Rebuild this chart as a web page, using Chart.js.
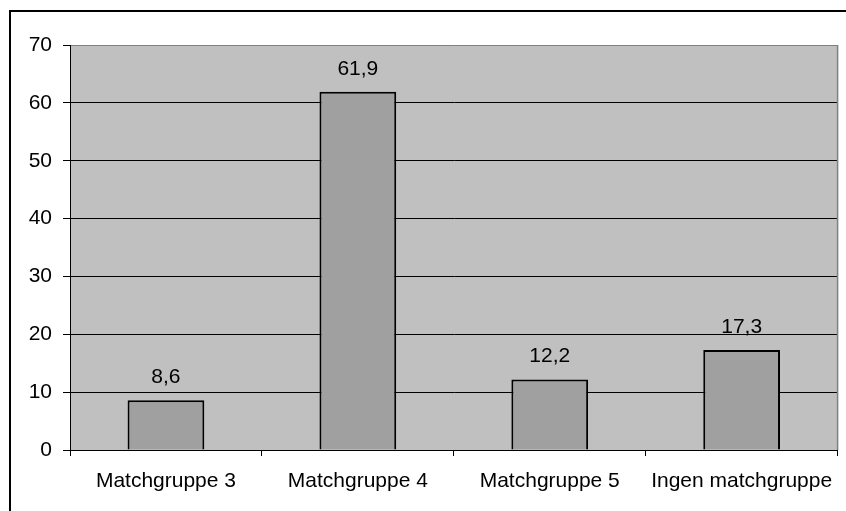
<!DOCTYPE html>
<html>
<head>
<meta charset="utf-8">
<script src="https://cdn.jsdelivr.net/npm/chart.js@4"></script>
<style>
  html, body { margin: 0; padding: 0; background: #fff; }
  #wrap { width: 846px; height: 511px; }
</style>
</head>
<body>
<div id="wrap"><canvas id="chart" width="846" height="511"></canvas></div>
<script>
const categories = ["Matchgruppe 3", "Matchgruppe 4", "Matchgruppe 5", "Ingen matchgruppe"];
const shares = [8.6, 61.9, 12.2, 17.3];
const yTicks = [0, 10, 20, 30, 40, 50, 60, 70];

const FONT = "'Liberation Sans', Arial, sans-serif";

// grey plot area + outer frame
const backdrop = {
  id: "backdrop",
  beforeDraw(chart) {
    const { ctx, chartArea: a } = chart;
    ctx.save();
    ctx.fillStyle = "#C0C0C0";
    ctx.fillRect(a.left, a.top, a.right - a.left, a.bottom - a.top);
    ctx.strokeStyle = "#000";
    ctx.lineWidth = 2;
    ctx.strokeRect(10, 11, 900, 600);
    ctx.restore();
  },
  afterDraw(chart) {
    const { ctx, chartArea: a } = chart;
    ctx.save();
    ctx.strokeStyle = "#808080";
    ctx.lineWidth = 1.5;
    ctx.beginPath();
    ctx.moveTo(a.right, a.top);
    ctx.lineTo(a.right, a.bottom);
    ctx.stroke();
    ctx.restore();
  }
};

// value labels above the bars, with decimal comma
const valueLabels = {
  id: "valueLabels",
  afterDatasetsDraw(chart) {
    const { ctx } = chart;
    const meta = chart.getDatasetMeta(0);
    ctx.save();
    ctx.fillStyle = "#000";
    ctx.font = "21px " + FONT;
    ctx.textAlign = "center";
    ctx.textBaseline = "alphabetic";
    meta.data.forEach((bar, i) => {
      const txt = shares[i].toFixed(1).replace(".", ",");
      ctx.fillText(txt, bar.x, bar.y - 17);
    });
    ctx.restore();
  }
};

new Chart(document.getElementById("chart"), {
  type: "bar",
  data: {
    labels: categories,
    datasets: [{
      data: shares,
      backgroundColor: "#A0A0A0",
      borderColor: "#000",
      borderWidth: 2,
      barPercentage: 0.4,
      categoryPercentage: 1
    }]
  },
  options: {
    responsive: false,
    animation: false,
    layout: { padding: { top: 45, right: 7, left: 0, bottom: 0 } },
    plugins: { legend: { display: false }, tooltip: { enabled: false } },
    scales: {
      x: {
        offset: true,
        grid: { offset: true, drawOnChartArea: false, drawTicks: true, tickLength: 6, color: "#000" },
        border: { color: "#000", width: 1 },
        ticks: { color: "#000", font: { family: FONT, size: 21 }, padding: 13, maxRotation: 0 },
        afterFit(scale) { scale.height = 61; }
      },
      y: {
        min: 0,
        max: 70,
        afterBuildTicks(scale) { scale.ticks = yTicks.map(v => ({ value: v })); },
        grid: {
          color: ctx => (ctx.tick && ctx.tick.value === 70 ? "#808080" : "#000"),
          lineWidth: 1,
          tickLength: 7,
          tickColor: "#000"
        },
        border: { color: "#000", width: 1 },
        ticks: { color: "#000", font: { family: FONT, size: 21 }, padding: 11 },
        afterFit(scale) { scale.width = 70; }
      }
    }
  },
  plugins: [backdrop, valueLabels]
});
</script>
</body>
</html>
